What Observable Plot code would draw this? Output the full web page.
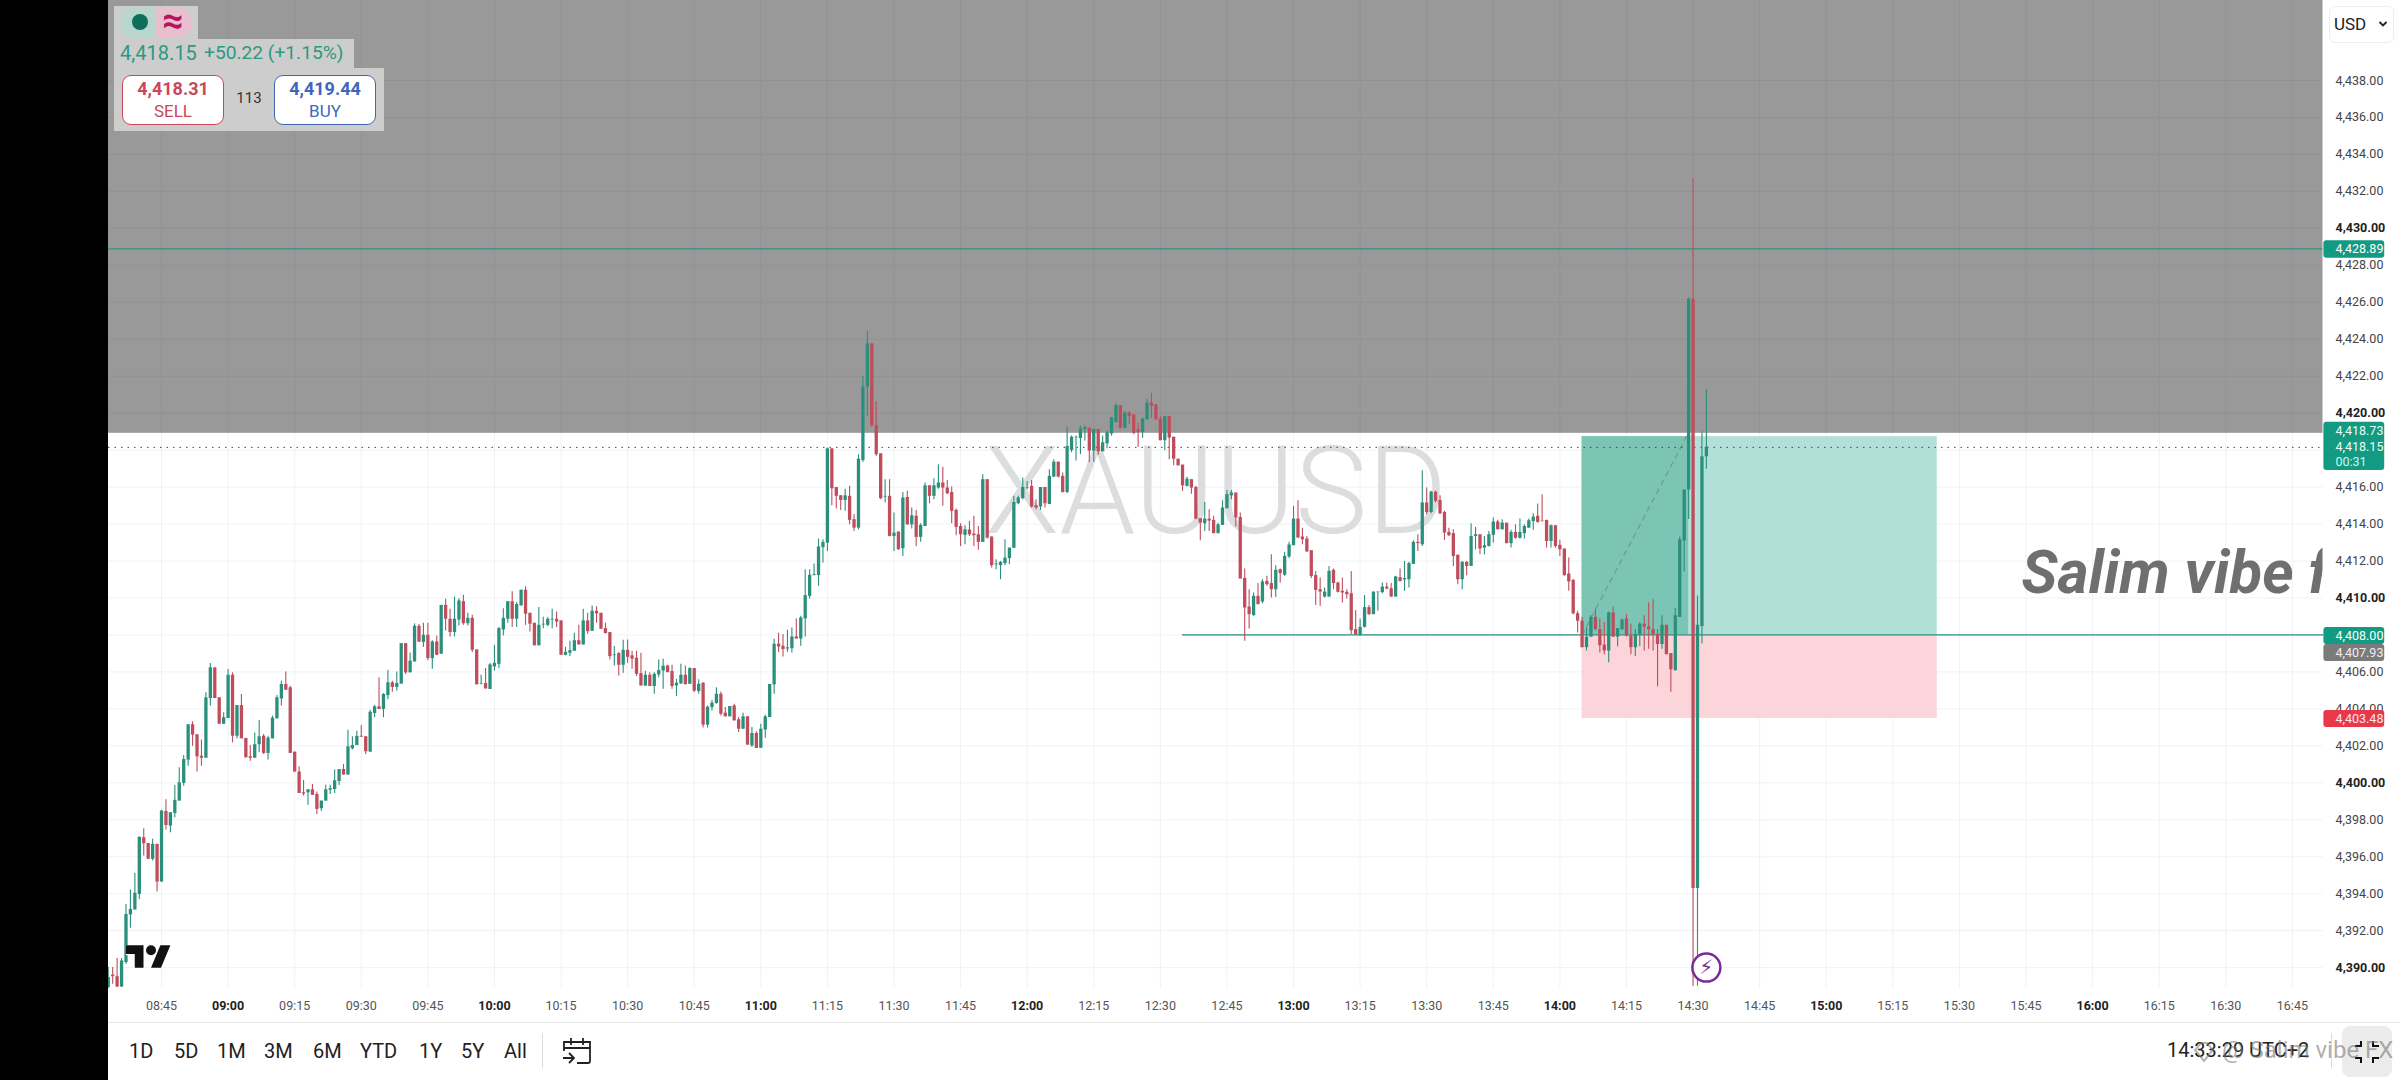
<!DOCTYPE html>
<html><head><meta charset="utf-8">
<script src="https://cdn.jsdelivr.net/npm/d3@7"></script>
<script src="https://cdn.jsdelivr.net/npm/@observablehq/plot@0.6"></script>
<style>
html,body{margin:0;padding:0;background:#fff;font-family:Roboto,sans-serif;}
#page{position:relative;width:2400px;height:1080px;overflow:hidden;}
#chart svg{display:block;}
.abs{position:absolute;}
.panel{position:absolute;background:#cdcdcd;}
.btn{position:absolute;top:75px;width:102px;height:50px;background:#fff;border-radius:9px;box-sizing:border-box;text-align:center;}
.btn b{display:block;font-size:18px;line-height:18px;margin-top:4px;font-weight:700;}
.btn span{display:block;font-size:17px;line-height:18px;margin-top:4px;}
.range{position:absolute;top:1038px;font-size:20px;line-height:26px;color:#222;}
</style></head><body>
<div id="page">
  <div id="chart"></div>
  <div class="abs" style="left:0;top:0;width:108px;height:1080px;background:#000"></div>

  <div class="panel" style="left:114px;top:6px;width:84px;height:34px"></div>
  <div class="panel" style="left:114px;top:39px;width:240px;height:30px"></div>
  <div class="panel" style="left:114px;top:68px;width:270px;height:63px"></div>
  <div class="abs" style="left:120px;top:7px;width:36px;height:31px;background:#b8d6ce;border-radius:16px 0 0 16px"></div>
  <div class="abs" style="left:156px;top:7px;width:36px;height:31px;background:#e8bfce;border-radius:0 16px 16px 0"></div>
  <div class="abs" style="left:132px;top:14px;width:16px;height:16px;background:#0e6e5b;border-radius:50%"></div>
  <div class="abs" style="left:156px;top:2px;width:34px;text-align:center;font-size:37px;line-height:38px;font-weight:700;color:#b5135f">≈</div>
  <div class="abs" style="left:120px;top:40px;font-size:20px;line-height:26px;color:#2b9a80;white-space:pre">4,418.15</div>
  <div class="abs" style="left:204px;top:40px;font-size:19.2px;line-height:26px;color:#2b9a80;white-space:pre">+50.22 (+1.15%)</div>
  <div class="btn" style="left:122px;border:1.5px solid #c9475a;color:#c9475a"><b>4,418.31</b><span>SELL</span></div>
  <div class="abs" style="left:230px;top:88px;width:38px;text-align:center;font-size:15px;line-height:20px;color:#333">113</div>
  <div class="btn" style="left:274px;border:1.5px solid #3f66b0;color:#3f66b8"><b>4,419.44</b><span>BUY</span></div>

  <div class="abs" style="left:2329px;top:6px;width:65px;height:37px;box-sizing:border-box;border:1px solid #eee;border-radius:6px;background:#fff"></div>
  <div class="abs" style="left:2334px;top:12px;font-size:17px;line-height:24px;color:#222">USD</div>
  <svg class="abs" style="left:2378px;top:20px" width="10" height="8" viewBox="0 0 10 8"><path d="M1.5 2 L5 5.5 L8.5 2" fill="none" stroke="#222" stroke-width="1.8"/></svg>

  <svg class="abs" style="left:126px;top:945px" width="45" height="23" viewBox="0 4 36 18"><g fill="#111" stroke="#fff" stroke-width="2" paint-order="stroke"><path d="M14 22H7V11H0V4h14v18z"/><path d="M28 22h-8l7.5-18h8L28 22z"/><circle cx="20" cy="8" r="4"/></g></svg>

  <div class="abs" style="left:108px;top:1022px;width:2292px;height:1px;background:#e6e6e6"></div>
  <div class="range" style="left:129px">1D</div>
  <div class="range" style="left:174px">5D</div>
  <div class="range" style="left:217px">1M</div>
  <div class="range" style="left:264px">3M</div>
  <div class="range" style="left:313px">6M</div>
  <div class="range" style="left:360px">YTD</div>
  <div class="range" style="left:419px">1Y</div>
  <div class="range" style="left:461px">5Y</div>
  <div class="range" style="left:504px">All</div>
  <div class="abs" style="left:542px;top:1033px;width:1px;height:35px;background:#ddd"></div>
  <svg class="abs" style="left:562px;top:1037px" width="30" height="28" viewBox="0 0 30 28"><path d="M2 14 V5 H28 V24 a2 2 0 0 1 -2 2 H15 M2 11 H28 M9 1 V8 M21 1 V8 M1 21 H11 M7 16 L12 21 L7 26" fill="none" stroke="#222" stroke-width="1.8"/></svg>
  <div class="abs" style="left:2167px;top:1037px;font-size:20px;line-height:26px;color:#222;white-space:pre">14:33:29 UTC+2</div>
  <div class="abs" style="left:2331px;top:1033px;width:1px;height:35px;background:#ddd"></div>
  <div class="abs" style="left:2342px;top:1026px;width:50px;height:51px;background:#ececec;border-radius:8px"></div>
  <svg class="abs" style="left:2354px;top:1040px" width="26" height="24" viewBox="0 0 26 24"><path d="M1 6 H7 V1 M19 1 V6 H25 M1 18 H7 V23 M19 23 V18 H25" fill="none" stroke="#111" stroke-width="2"/></svg>
  <svg class="abs" style="left:2192px;top:1040px" width="24" height="24" viewBox="0 0 24 24"><path d="M3 10 L12 21 L21 10 L15 3 H9 Z" fill="none" stroke="rgba(120,120,120,.55)" stroke-width="2"/></svg>
  <div class="abs" style="left:2222px;top:1036px;font-size:24px;line-height:28px;color:rgba(120,120,120,.6);white-space:pre">@ Salim vibe FX</div>
</div>
<script>
// 1-minute candles, first at 08:33 and last at 14:33
const firstMinute = 513;
const opens = [
4388.92,4389.59,4389.51,4388.95,4390.27,4392.85,4393.12,4393.96,4397.03,4396.72,
4395.86,4396.67,4394.63,4398.45,4397.66,4398.34,4399.01,4399.97,4401.23,4403.14,
4402.6,4401.44,4401.33,4404.56,4406.22,4404.6,4403.17,4403.48,4405.82,4402.52,
4404.18,4402.4,4401.41,4401.33,4402.06,4402.52,4401.59,4402.38,4403.46,4404.54,
4405.32,4405.14,4401.66,4400.58,4399.46,4399.46,4399.62,4399.37,4398.6,4399.01,
4399.6,4399.64,4400.07,4400.72,4400.42,4401.84,4402.02,4402.52,4402.49,4401.66,
4403.75,4404.11,4403.97,4404.72,4405.41,4405.16,4405.34,4407.53,4405.95,4406.54,
4408.47,4407.59,4407.98,4406.72,4407.62,4406.96,4409.6,4408.85,4408.13,4408.81,
4409.8,4408.61,4408.9,4407.19,4405.32,4405.37,4405.05,4406.27,4406.41,4408.27,
4408.85,4409.8,4408.85,4409.57,4410.42,4409.17,4408.63,4407.41,4408.54,4408.52,
4408.81,4408.85,4408.76,4406.9,4407.01,4407.12,4407.69,4407.46,4408.76,4408.2,
4409.28,4409.17,4408.34,4408.13,4406.88,4406.99,4406.36,4407.17,4406.87,4406.74,
4405.91,4405.23,4405.82,4405.21,4405.84,4406.05,4406.32,4406.02,4405.24,4405.35,
4405.82,4405.33,4406.18,4404.94,4405.39,4403.12,4404.07,4404.29,4404.79,4403.77,
4403.57,4404.16,4403.41,4402.9,4403.57,4402.0,4402.67,4401.87,4402.86,4403.53,
4405.3,4407.5,4407.39,4407.24,4407.26,4407.89,4407.78,4408.87,4410.09,4411.21,
4411.21,4412.72,4412.97,4418.07,4415.98,4415.53,4415.28,4415.5,4414.24,4413.78,
4417.44,4421.41,4423.75,4419.32,4417.8,4415.46,4415.5,4413.33,4413.57,4412.67,
4415.44,4413.96,4414.42,4413.28,4413.87,4416.07,4415.5,4415.95,4416.22,4415.95,
4415.71,4414.74,4413.87,4413.39,4413.68,4413.46,4413.42,4413.01,4416.4,4413.3,
4411.8,4411.75,4411.86,4412.13,4412.69,4415.1,4415.37,4415.95,4416.04,4414.99,
4414.92,4415.98,4415.06,4416.54,4417.35,4416.58,4415.71,4417.98,4418.67,4418.63,
4419.12,4419.17,4417.95,4419.12,4417.91,4418.34,4418.88,4419.5,4420.4,4419.19,
4420.0,4419.91,4419.1,4418.96,4419.64,4420.54,4420.45,4419.68,4418.51,4419.82,
4418.7,4417.51,4417.19,4416.04,4416.4,4415.98,4414.29,4414.02,4414.27,4414.2,
4413.48,4413.93,4414.83,4415.53,4415.68,4414.36,4411.06,4409.51,4409.05,4410.09,
4409.78,4410.9,4410.78,4410.45,4411.53,4411.23,4412.22,4412.83,4414.27,4413.3,
4413.19,4412.56,4411.21,4410.45,4410.05,4410.05,4411.5,4410.81,4410.36,4410.31,
4410.23,4408.29,4408.0,4408.41,4409.48,4409.1,4410.29,4410.29,4410.59,4410.5,
4410.05,4411.1,4410.98,4410.99,4411.82,4413.01,4412.88,4415.14,4414.63,4415.73,
4415.28,4414.63,4413.55,4413.48,4412.31,4410.99,4411.93,4411.71,4413.33,4413.42,
4412.7,4412.79,4413.39,4414.11,4413.69,4414.05,4412.94,4413.55,4413.23,4413.48,
4413.78,4414.14,4414.42,4414.16,4414.2,4413.06,4413.91,4412.85,4412.65,4411.3,
4410.96,4409.15,4408.75,4407.31,4407.88,4408.95,4408.29,4407.45,4407.13,4409.19,
4407.88,4408.29,4408.87,4407.94,4407.31,4408.0,4408.58,4408.43,4408.29,4408.03,
4407.48,4408.52,4406.99,4406.06,4408.95,4413.09,4415.84,4426.17,4394.28,4408.46,
4417.64];
const closes = [
4389.46,4389.51,4388.95,4390.36,4392.88,4393.15,4394.02,4397.06,4396.7,4395.86,
4396.67,4394.63,4398.47,4397.69,4398.38,4399.05,4400.0,4401.26,4403.14,4402.58,
4401.41,4401.33,4404.6,4406.22,4404.56,4403.17,4403.52,4405.82,4402.52,4404.18,
4402.38,4401.35,4401.33,4402.06,4402.49,4401.59,4402.42,4403.5,4404.6,4405.32,
4405.01,4401.59,4400.58,4399.42,4399.39,4399.62,4399.32,4398.56,4399.01,4399.62,
4399.68,4400.11,4400.72,4400.42,4401.95,4402.02,4402.51,4402.47,4401.68,4403.82,
4404.11,4403.97,4404.78,4405.41,4405.16,4405.37,4407.53,4405.95,4406.58,4408.47,
4407.61,4407.98,4406.72,4407.62,4406.9,4409.6,4408.85,4408.13,4408.85,4409.84,
4408.61,4408.9,4407.17,4405.3,4405.35,4405.08,4406.38,4406.47,4408.34,4408.9,
4409.8,4408.85,4409.64,4410.42,4409.12,4408.58,4407.41,4408.52,4408.58,4408.85,
4408.85,4408.7,4406.9,4407.06,4407.15,4407.69,4407.46,4408.76,4408.18,4409.28,
4409.14,4408.31,4408.07,4406.83,4406.92,4406.36,4407.17,4406.79,4406.69,4405.87,
4405.24,4405.82,4405.21,4405.87,4406.07,4406.31,4405.96,4405.21,4405.39,4405.82,
4405.32,4406.18,4404.96,4405.33,4403.12,4404.09,4404.31,4404.79,4403.71,4403.57,
4404.13,4403.35,4402.9,4403.57,4402.04,4402.67,4401.86,4402.9,4403.57,4405.32,
4407.5,4407.35,4407.21,4407.3,4407.89,4407.78,4408.92,4410.13,4411.23,4411.26,
4412.76,4413.01,4418.07,4415.91,4415.5,4415.28,4415.53,4414.2,4413.78,4417.51,
4421.41,4423.75,4419.32,4417.75,4415.37,4415.5,4413.33,4413.51,4412.61,4415.41,
4413.96,4414.45,4413.28,4413.93,4416.07,4415.5,4416.07,4416.22,4415.95,4415.64,
4414.69,4413.82,4413.42,4413.69,4413.42,4413.37,4413.01,4416.4,4413.24,4411.75,
4411.84,4411.93,4412.16,4412.7,4415.17,4415.41,4415.98,4415.98,4414.92,4414.87,
4415.98,4415.1,4416.58,4417.35,4416.54,4415.71,4418.2,4418.7,4418.7,4419.15,
4419.21,4417.95,4419.12,4417.91,4418.4,4418.94,4419.75,4420.4,4419.19,4420.0,
4419.82,4418.92,4418.96,4419.68,4420.54,4420.36,4419.64,4418.51,4419.82,4418.65,
4417.51,4417.15,4416.07,4416.43,4415.95,4414.27,4414.05,4414.27,4414.16,4413.48,
4413.96,4414.87,4415.59,4415.68,4414.33,4411.03,4409.46,4409.1,4410.09,4409.64,
4410.87,4410.72,4410.45,4411.5,4411.32,4412.25,4412.87,4414.27,4413.24,4413.15,
4412.49,4411.17,4410.41,4410.32,4410.32,4411.44,4410.78,4410.31,4410.27,4410.18,
4408.23,4408.0,4408.41,4409.48,4409.1,4410.32,4410.32,4410.59,4410.49,4410.05,
4411.14,4410.9,4411.05,4411.86,4413.01,4412.94,4415.14,4414.63,4415.73,4415.23,
4414.56,4413.51,4413.37,4412.25,4410.99,4411.93,4411.71,4413.33,4413.42,4412.65,
4412.83,4413.42,4414.11,4413.69,4414.05,4412.94,4413.55,4413.23,4413.55,4413.87,
4414.18,4414.38,4414.09,4414.13,4413.06,4413.91,4412.79,4412.61,4411.21,4410.87,
4409.14,4408.74,4407.31,4407.88,4408.95,4408.29,4407.42,4407.13,4409.19,4407.88,
4408.35,4408.81,4407.94,4407.31,4408.0,4408.58,4408.43,4408.29,4408.03,4407.48,
4408.52,4406.93,4406.12,4409.04,4413.15,4415.84,4426.17,4394.28,4408.52,4417.64,
4418.16];
const highs = [
4390.0,4390.0,4390.49,4390.49,4393.42,4394.2,4395.1,4397.06,4397.51,4396.72,
4396.94,4396.67,4398.52,4399.08,4398.38,4399.86,4400.81,4401.48,4403.14,4403.3,
4402.6,4402.31,4404.87,4406.45,4406.22,4404.6,4403.79,4406.13,4405.95,4404.18,
4404.78,4402.4,4402.02,4402.7,4403.37,4402.61,4402.52,4403.61,4404.72,4405.5,
4406.0,4405.23,4401.66,4400.87,4400.13,4399.62,4399.91,4399.5,4399.01,4399.87,
4399.87,4400.69,4400.72,4400.99,4402.85,4402.49,4402.79,4403.1,4402.49,4403.93,
4404.18,4405.68,4404.83,4406.07,4405.5,4406.0,4407.53,4407.53,4407.03,4408.6,
4408.56,4408.63,4408.63,4407.68,4407.95,4409.6,4409.93,4409.39,4410.05,4409.96,
4410.15,4409.17,4409.06,4407.19,4405.82,4406.18,4406.45,4407.44,4408.4,4409.42,
4409.8,4410.34,4409.75,4410.42,4410.61,4409.17,4408.63,4409.48,4408.96,4408.94,
4409.39,4409.24,4408.76,4407.33,4407.66,4408.09,4408.52,4409.39,4409.17,4409.57,
4409.53,4409.17,4408.63,4408.13,4407.37,4407.05,4407.71,4407.73,4407.12,4407.12,
4407.01,4406.04,4405.96,4405.96,4406.65,4406.69,4406.36,4406.36,4405.6,4406.41,
4406.32,4406.23,4406.18,4405.57,4405.42,4404.16,4404.45,4405.15,4404.92,4404.07,
4404.13,4404.25,4403.53,4403.77,4403.57,4402.99,4402.76,4403.17,4403.66,4405.32,
4407.77,4408.09,4408.02,4408.25,4408.38,4408.87,4409.01,4411.53,4411.53,4411.84,
4413.19,4413.15,4418.11,4418.07,4415.98,4415.53,4415.89,4416.04,4414.51,4417.75,
4421.98,4424.42,4423.75,4420.63,4417.8,4416.4,4416.4,4414.6,4413.57,4415.71,
4415.77,4414.87,4414.74,4414.02,4416.22,4416.07,4416.45,4417.21,4417.08,4416.36,
4416.0,4414.81,4414.02,4413.91,4414.15,4414.42,4413.87,4416.67,4416.4,4413.3,
4412.07,4411.98,4413.15,4412.7,4415.5,4415.5,4416.49,4416.31,4416.36,4415.32,
4415.98,4415.98,4416.94,4417.48,4417.35,4416.76,4419.24,4418.76,4418.76,4419.3,
4419.3,4419.21,4419.12,4419.12,4418.76,4419.03,4419.78,4420.51,4420.4,4420.09,
4420.09,4419.91,4419.46,4419.73,4420.76,4421.08,4420.45,4419.82,4419.82,4419.82,
4418.7,4417.51,4417.19,4416.54,4416.4,4416.04,4414.29,4415.17,4414.78,4414.42,
4414.05,4415.26,4415.82,4415.82,4415.68,4414.6,4411.57,4410.45,4410.27,4410.78,
4410.99,4411.17,4412.34,4411.75,4411.57,4412.47,4413.01,4414.96,4415.26,4413.78,
4413.33,4412.56,4411.44,4411.08,4410.54,4411.71,4411.57,4410.85,4411.08,4410.45,
4411.44,4409.33,4408.86,4410.13,4409.59,4410.32,4410.32,4410.81,4410.81,4410.78,
4411.17,4411.57,4411.98,4411.93,4413.1,4413.42,4416.88,4415.95,4415.77,4415.77,
4415.53,4414.69,4413.78,4413.69,4412.34,4411.98,4411.98,4414.02,4413.82,4413.42,
4413.33,4413.6,4414.33,4414.2,4414.23,4414.05,4413.66,4413.96,4414.27,4413.96,
4414.27,4414.56,4415.08,4415.59,4414.2,4413.95,4413.91,4413.12,4412.65,4412.16,
4410.99,4409.28,4408.95,4408.38,4409.04,4409.39,4408.87,4408.67,4409.24,4409.53,
4408.35,4408.87,4409.1,4408.58,4408.29,4408.67,4409.04,4409.74,4409.91,4408.29,
4409.04,4408.52,4406.99,4409.45,4413.3,4415.84,4426.23,4432.69,4410.11,4419.0,
4421.25];
const lows = [
4388.83,4389.1,4388.92,4388.92,4390.18,4392.13,4393.12,4393.69,4396.04,4395.86,
4395.77,4394.09,4394.63,4397.44,4397.3,4398.11,4399.01,4399.82,4400.9,4401.98,
4400.58,4400.9,4401.33,4404.15,4404.56,4403.17,4403.17,4403.48,4402.16,4402.38,
4402.38,4401.35,4401.17,4401.33,4401.62,4401.53,4401.23,4402.38,4403.46,4404.15,
4405.01,4401.59,4400.58,4399.42,4399.28,4398.79,4399.32,4398.29,4398.45,4399.01,
4399.37,4399.42,4399.86,4400.42,4400.42,4401.77,4402.02,4402.47,4401.53,4401.66,
4403.52,4403.97,4403.52,4404.5,4404.9,4404.96,4405.34,4405.86,4405.95,4406.54,
4407.61,4407.32,4406.6,4406.14,4406.87,4406.96,4408.22,4407.89,4407.89,4408.49,
4408.52,4408.49,4407.05,4405.3,4405.3,4405.08,4405.05,4406.05,4406.18,4407.95,
4408.63,4408.4,4408.4,4409.57,4408.52,4408.16,4407.41,4407.41,4408.34,4408.45,
4408.34,4408.4,4406.9,4406.87,4406.83,4407.12,4407.46,4407.46,4408.04,4408.2,
4408.63,4408.31,4408.07,4406.65,4406.32,4405.78,4405.93,4406.47,4406.14,4405.75,
4405.24,4405.23,4405.21,4404.79,4405.69,4405.06,4405.96,4405.06,4404.67,4405.32,
4405.28,4405.33,4404.88,4404.79,4402.96,4402.96,4403.89,4404.25,4403.62,4403.57,
4403.57,4403.35,4402.72,4402.9,4402.04,4401.91,4401.86,4401.87,4402.41,4403.53,
4404.79,4407.05,4406.81,4407.06,4407.03,4407.78,4407.39,4407.89,4409.95,4411.21,
4410.63,4411.89,4412.52,4414.99,4414.81,4414.74,4414.69,4413.96,4413.6,4413.69,
4417.33,4419.82,4419.24,4417.66,4415.32,4415.14,4413.3,4412.52,4412.58,4412.25,
4413.93,4413.73,4412.79,4413.01,4413.87,4415.1,4415.32,4415.89,4414.96,4415.59,
4414.02,4413.37,4412.79,4412.88,4413.33,4412.79,4412.58,4413.01,4413.19,4411.62,
4411.53,4410.99,4411.75,4411.8,4412.69,4415.05,4415.32,4415.86,4414.87,4414.78,
4414.74,4414.87,4415.06,4416.54,4416.49,4415.68,4415.64,4417.86,4417.41,4417.77,
4418.49,4417.32,4417.35,4417.73,4417.91,4418.07,4418.76,4419.46,4419.14,4419.14,
4419.37,4418.83,4418.16,4418.65,4419.64,4419.73,4419.64,4418.51,4417.97,4417.48,
4417.15,4417.15,4415.77,4416.0,4415.62,4414.23,4413.1,4413.6,4413.6,4413.48,
4413.48,4413.93,4414.83,4415.32,4413.84,4411.03,4407.66,4408.32,4409.01,4409.64,
4409.69,4410.63,4410.0,4410.02,4410.81,4411.17,4412.14,4412.83,4413.24,4412.88,
4412.47,4411.05,4409.59,4409.55,4410.0,4410.05,4410.45,4410.27,4409.73,4409.95,
4408.02,4408.0,4407.93,4408.38,4409.05,4409.1,4409.28,4410.23,4410.45,4410.02,
4410.05,4410.85,4410.36,4410.54,4411.82,4412.52,4412.79,4414.5,4414.56,4415.14,
4414.5,4413.12,4413.33,4411.71,4410.72,4410.45,4411.21,4411.71,4412.61,4412.34,
4412.34,4412.76,4412.97,4413.69,4413.69,4412.94,4412.7,4413.19,4413.19,4413.19,
4413.78,4413.66,4414.05,4414.13,4412.7,4412.7,4412.7,4412.25,4411.17,4410.36,
4409.1,4408.11,4407.31,4407.13,4407.88,4408.23,4407.02,4406.93,4406.5,4407.86,
4407.36,4408.23,4407.88,4406.93,4406.84,4407.36,4407.13,4407.22,4407.13,4405.19,
4407.22,4406.93,4404.9,4406.06,4408.95,4411.41,4414.25,4388.99,4388.99,4407.51,
4416.97];

const yTicks = d3.range(4390, 4439, 2);
const timeTicks = d3.range(525, 1006, 15);
const entry = 4408, stop = 4403.48, target = 4418.73, last = 4418.15, alert = 4428.89;
const zoneEdge = 4418.91;
const boxStart = 845, boxActiveEnd = 869, boxEnd = 925, entryLineStart = 755;
const xDomain = [513.06, 1011.9], yDomain = [4388.87, 4442.33];
const tagLeft = 1012.1, tagRight = 1025.8;

const tagBlocks = [
  {top: 4429.33, bottom: 4428.39, fill: "#129a83"},
  {top: 4419.51, bottom: 4416.9, fill: "#129a83"},
  {top: 4408.41, bottom: 4407.49, fill: "#129a83"},
  {top: 4407.49, bottom: 4406.57, fill: "#7b7b7b"},
  {top: 4403.91, bottom: 4402.99, fill: "#e8384a"}
];
const tagLabels = [
  {at: 4428.87, text: "4,428.89", fill: "#ffffff"},
  {at: 4419.04, text: "4,418.73", fill: "#e8fff9"},
  {at: 4418.16, text: "4,418.15", fill: "#e8fff9"},
  {at: 4417.38, text: "00:31", fill: "#d3f5ec"},
  {at: 4407.95, text: "4,408.00", fill: "#ffffff"},
  {at: 4407.03, text: "4,407.93", fill: "#eeeeee"},
  {at: 4403.45, text: "4,403.48", fill: "#ffe6e8"}
];

const candles = opens.map((o, i) => ({m: firstMinute + i, o, c: closes[i], h: highs[i], l: lows[i]}));
const up = candles.filter(d => d.c >= d.o), down = candles.filter(d => d.c < d.o);
const GREEN = "#2a8f7b", RED = "#bf4d5c";
const hhmm = m => String(Math.floor(m / 60)).padStart(2, "0") + ":" + String(m % 60).padStart(2, "0");
const price = p => d3.format(",.2f")(p);
const candleMarks = (rows, color) => [
  Plot.ruleX(rows, {x: "m", y1: "l", y2: "h", stroke: color, strokeWidth: 1.1, clip: true}),
  Plot.ruleX(rows, {x: "m", y1: "o", y2: "c", stroke: color, strokeWidth: 3.3, clip: true})
];

const chart = Plot.plot({
  width: 2400, height: 1080,
  marginLeft: 108, marginRight: 77.5, marginTop: 0, marginBottom: 92,
  x: {domain: xDomain, axis: null},
  y: {domain: yDomain, axis: null},
  style: {fontFamily: "Roboto, sans-serif", background: "transparent"},
  marks: [
    Plot.ruleY(yTicks, {stroke: "#f0f2f4"}),
    Plot.ruleX(timeTicks, {stroke: "#f0f2f4"}),
    Plot.text(["XAUUSD"], {x: () => 762.5, y: () => 4415.65, fontSize: 122, fontWeight: 300, fill: "#dcdddf", textAnchor: "middle", lineAnchor: "middle"}),
    Plot.text(["Salim vibe fx"], {x: () => 944, y: () => 4411.3, fontSize: 60, fontWeight: 700, fontStyle: "italic", fill: "#6f6f6f", textAnchor: "start", lineAnchor: "middle", clip: true}),
    Plot.rect([{x1: xDomain[0], x2: xDomain[1], y1: zoneEdge, y2: yDomain[1]}], {x1: "x1", x2: "x2", y1: "y1", y2: "y2", fill: "#000", fillOpacity: 0.4}),
    Plot.rect([{x1: boxStart, x2: boxEnd, y1: entry, y2: target}], {x1: "x1", x2: "x2", y1: "y1", y2: "y2", fill: "#b2dfd8"}),
    Plot.rect([{x1: boxStart, x2: boxActiveEnd, y1: entry, y2: target}], {x1: "x1", x2: "x2", y1: "y1", y2: "y2", fill: "#7cc5b5"}),
    Plot.rect([{x1: boxStart, x2: boxEnd, y1: stop, y2: entry}], {x1: "x1", x2: "x2", y1: "y1", y2: "y2", fill: "#fbd5d9"}),
    Plot.line([{m: boxStart, p: entry}, {m: boxActiveEnd - 0.5, p: target}], {x: "m", y: "p", stroke: "#6d9a92", strokeDasharray: "5,5", strokeWidth: 1.2}),
    Plot.ruleY([alert], {stroke: "#1f8f7c", strokeWidth: 1}),
    Plot.ruleY([last], {stroke: "#444", strokeDasharray: "1.5,5", strokeWidth: 1}),
    Plot.line([{m: entryLineStart, p: entry}, {m: xDomain[1], p: entry}], {x: "m", y: "p", stroke: "#1f8f7c", strokeWidth: 1.2}),
    candleMarks(down, RED),
    candleMarks(up, GREEN),
    Plot.dot([{m: firstMinute + 360, p: 4390}], {x: "m", y: "p", r: 14, fill: "#fff", stroke: "#7a2a9a", strokeWidth: 2.5}),
    Plot.text([{m: firstMinute + 360, p: 4390}], {x: "m", y: "p", text: () => "⚡", fontSize: 20, fill: "#7a2a9a", fontFamily: "DejaVu Sans", textAnchor: "middle", lineAnchor: "middle"}),
    Plot.axisX({ticks: timeTicks.filter(m => m % 60 !== 0), tickFormat: hhmm, tickSize: 0, tickPadding: 13, fontSize: 12.5, fill: "#555", anchor: "bottom", label: null}),
    Plot.axisX({ticks: timeTicks.filter(m => m % 60 === 0), tickFormat: hhmm, tickSize: 0, tickPadding: 13, fontSize: 12.5, fontWeight: 700, fill: "#222", anchor: "bottom", label: null}),
    Plot.axisY({ticks: yTicks.filter(p => p % 10 !== 0), tickFormat: price, tickSize: 0, tickPadding: 12.5, textAnchor: "start", fontSize: 12.5, fill: "#444", anchor: "right", label: null}),
    Plot.axisY({ticks: yTicks.filter(p => p % 10 === 0), tickFormat: price, tickSize: 0, tickPadding: 12.5, textAnchor: "start", fontSize: 12.5, fontWeight: 700, fill: "#222", anchor: "right", label: null}),
    tagBlocks.map(b => Plot.rect([b], {x1: () => tagLeft, x2: () => tagRight, y1: "bottom", y2: "top", fill: b.fill, rx: 3})),
    tagLabels.map(t => Plot.text([t], {y: "at", text: "text", frameAnchor: "right", dx: 12.5, textAnchor: "start", lineAnchor: "middle", fontSize: 12.5, fill: t.fill}))
  ]
});
document.getElementById("chart").appendChild(chart);
</script>
</body></html>
